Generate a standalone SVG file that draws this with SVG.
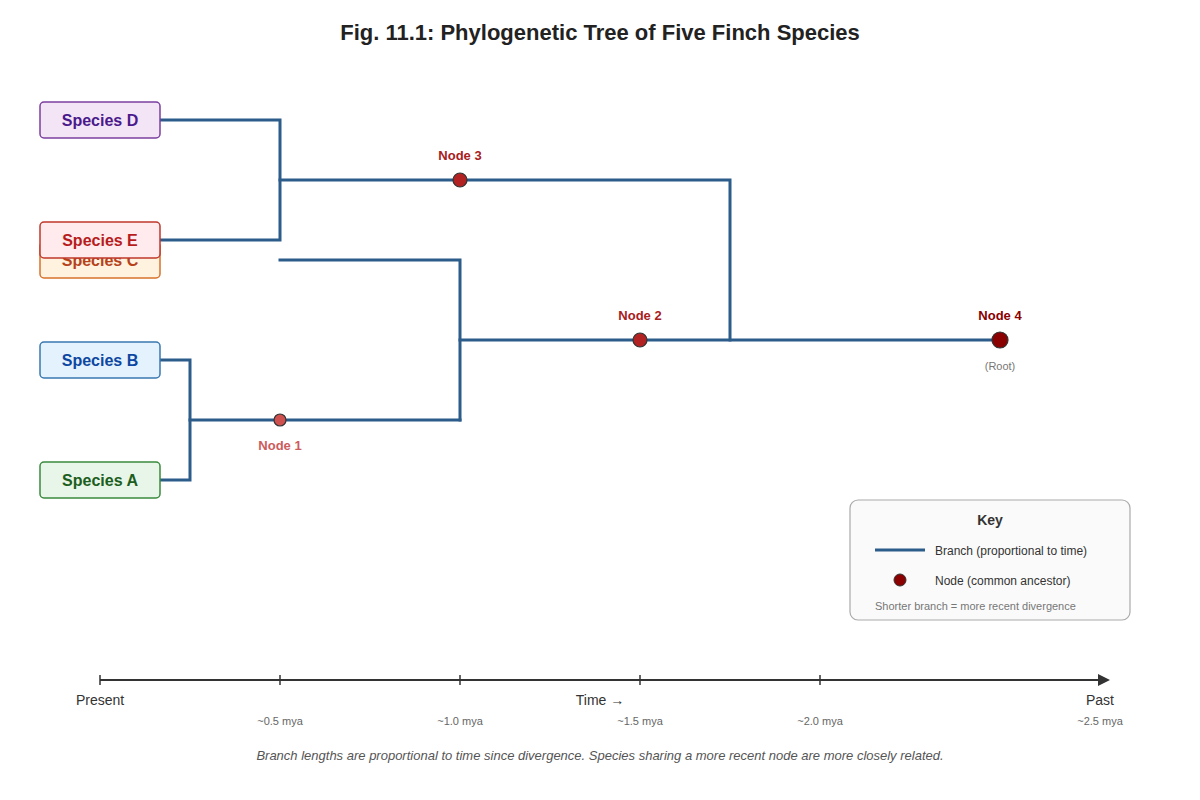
<svg xmlns="http://www.w3.org/2000/svg" width="1200" height="800" viewBox="0 0 1200 800">
<defs>
<style>
text{font-family:"Liberation Sans",Arial,sans-serif}
.br{fill:none;stroke:#2c5d8a;stroke-width:3;stroke-linecap:square}
.sp{stroke-width:1.5}
.sl{font-size:16px;font-weight:bold;text-anchor:middle}
.nl{font-size:13px;font-weight:bold;text-anchor:middle}
.tk{stroke:#333;stroke-width:1.5}
.tl{font-size:11px;fill:#666;text-anchor:middle}
.ax{font-size:14px;fill:#333;text-anchor:middle}
</style>
<marker id="arr" viewBox="0 0 10 10" refX="5" refY="5" markerWidth="6" markerHeight="6" orient="auto"><path d="M0,0 L10,5 L0,10 z" fill="#333"/></marker>
</defs>
<rect width="1200" height="800" fill="#fff"/>
<text x="600" y="40" text-anchor="middle" font-size="22" font-weight="bold" fill="#222">Fig. 11.1: Phylogenetic Tree of Five Finch Species</text>

<g id="connectors">
<path class="br" d="M160,120 H280 V240 H160"/>
<path class="br" d="M280,180 H730 V340"/>
<path class="br" d="M280,260 H460 V420"/>
<path class="br" d="M160,360 H190 V480 H160"/>
<path class="br" d="M190,420 H460"/>
<path class="br" d="M460,340 H1000"/>
</g>

<g id="speciesD"><rect x="40" y="102" width="120" height="36" rx="4" fill="#f3e5f5" stroke="#7b3fa0" class="sp"/><text x="100" y="125.5" class="sl" fill="#4a1a8c">Species D</text></g>
<g id="speciesC"><rect x="40" y="242" width="120" height="36" rx="4" fill="#fff3e0" stroke="#d9712b" class="sp"/><text x="100" y="265.5" class="sl" fill="#b5421a">Species C</text></g>
<g id="speciesE"><rect x="40" y="222" width="120" height="36" rx="4" fill="#ffebee" stroke="#c0392b" class="sp"/><text x="100" y="245.5" class="sl" fill="#b71c1c">Species E</text></g>
<g id="speciesB"><rect x="40" y="342" width="120" height="36" rx="4" fill="#e3f2fd" stroke="#3a78b0" class="sp"/><text x="100" y="365.5" class="sl" fill="#0d47a1">Species B</text></g>
<g id="speciesA"><rect x="40" y="462" width="120" height="36" rx="4" fill="#e8f5e9" stroke="#3a8a3e" class="sp"/><text x="100" y="485.5" class="sl" fill="#1b5e20">Species A</text></g>

<g id="node1"><circle cx="280" cy="420" r="6" fill="#d05050" stroke="#333" stroke-width="1.2"/><text x="280" y="450" class="nl" fill="#cd5c5c">Node 1</text></g>
<g id="node2"><circle cx="640" cy="340" r="7" fill="#b22222" stroke="#333" stroke-width="1.2"/><text x="640" y="320" class="nl" fill="#a82020">Node 2</text></g>
<g id="node3"><circle cx="460" cy="180" r="7" fill="#b22222" stroke="#333" stroke-width="1.2"/><text x="460" y="160" class="nl" fill="#a82020">Node 3</text></g>
<g id="node4"><circle cx="1000" cy="340" r="8" fill="#8b0000" stroke="#333" stroke-width="1.2"/><text x="1000" y="320" class="nl" fill="#8b0000">Node 4</text><text x="1000" y="370" font-size="11" fill="#777" text-anchor="middle">(Root)</text></g>

<g id="key">
<rect x="850" y="500" width="280" height="120" rx="8" fill="#fafafa" stroke="#aaa" stroke-width="1.2"/>
<text x="990" y="525" font-size="14" font-weight="bold" fill="#333" text-anchor="middle">Key</text>
<line x1="875" y1="550" x2="925" y2="550" stroke="#2c5d8a" stroke-width="3"/>
<text x="935" y="555" font-size="12" fill="#333">Branch (proportional to time)</text>
<circle cx="900" cy="580" r="6" fill="#8b0000" stroke="#333" stroke-width="1"/>
<text x="935" y="585" font-size="12" fill="#333">Node (common ancestor)</text>
<text x="875" y="610" font-size="11" fill="#777">Shorter branch = more recent divergence</text>
</g>

<g id="axis">
<line x1="100" y1="680" x2="1104" y2="680" stroke="#333" stroke-width="2" marker-end="url(#arr)"/>
<line x1="100" y1="675" x2="100" y2="685" class="tk"/>
<line x1="280" y1="675" x2="280" y2="685" class="tk"/>
<line x1="460" y1="675" x2="460" y2="685" class="tk"/>
<line x1="640" y1="675" x2="640" y2="685" class="tk"/>
<line x1="820" y1="675" x2="820" y2="685" class="tk"/>
<text x="100" y="705" class="ax">Present</text>
<text x="600" y="705" class="ax">Time →</text>
<text x="1100" y="705" class="ax">Past</text>
<text x="280" y="725" class="tl">~0.5 mya</text>
<text x="460" y="725" class="tl">~1.0 mya</text>
<text x="640" y="725" class="tl">~1.5 mya</text>
<text x="820" y="725" class="tl">~2.0 mya</text>
<text x="1100" y="725" class="tl">~2.5 mya</text>
</g>

<text x="600" y="760" font-size="13" font-style="italic" fill="#555" text-anchor="middle">Branch lengths are proportional to time since divergence. Species sharing a more recent node are more closely related.</text>
</svg>
